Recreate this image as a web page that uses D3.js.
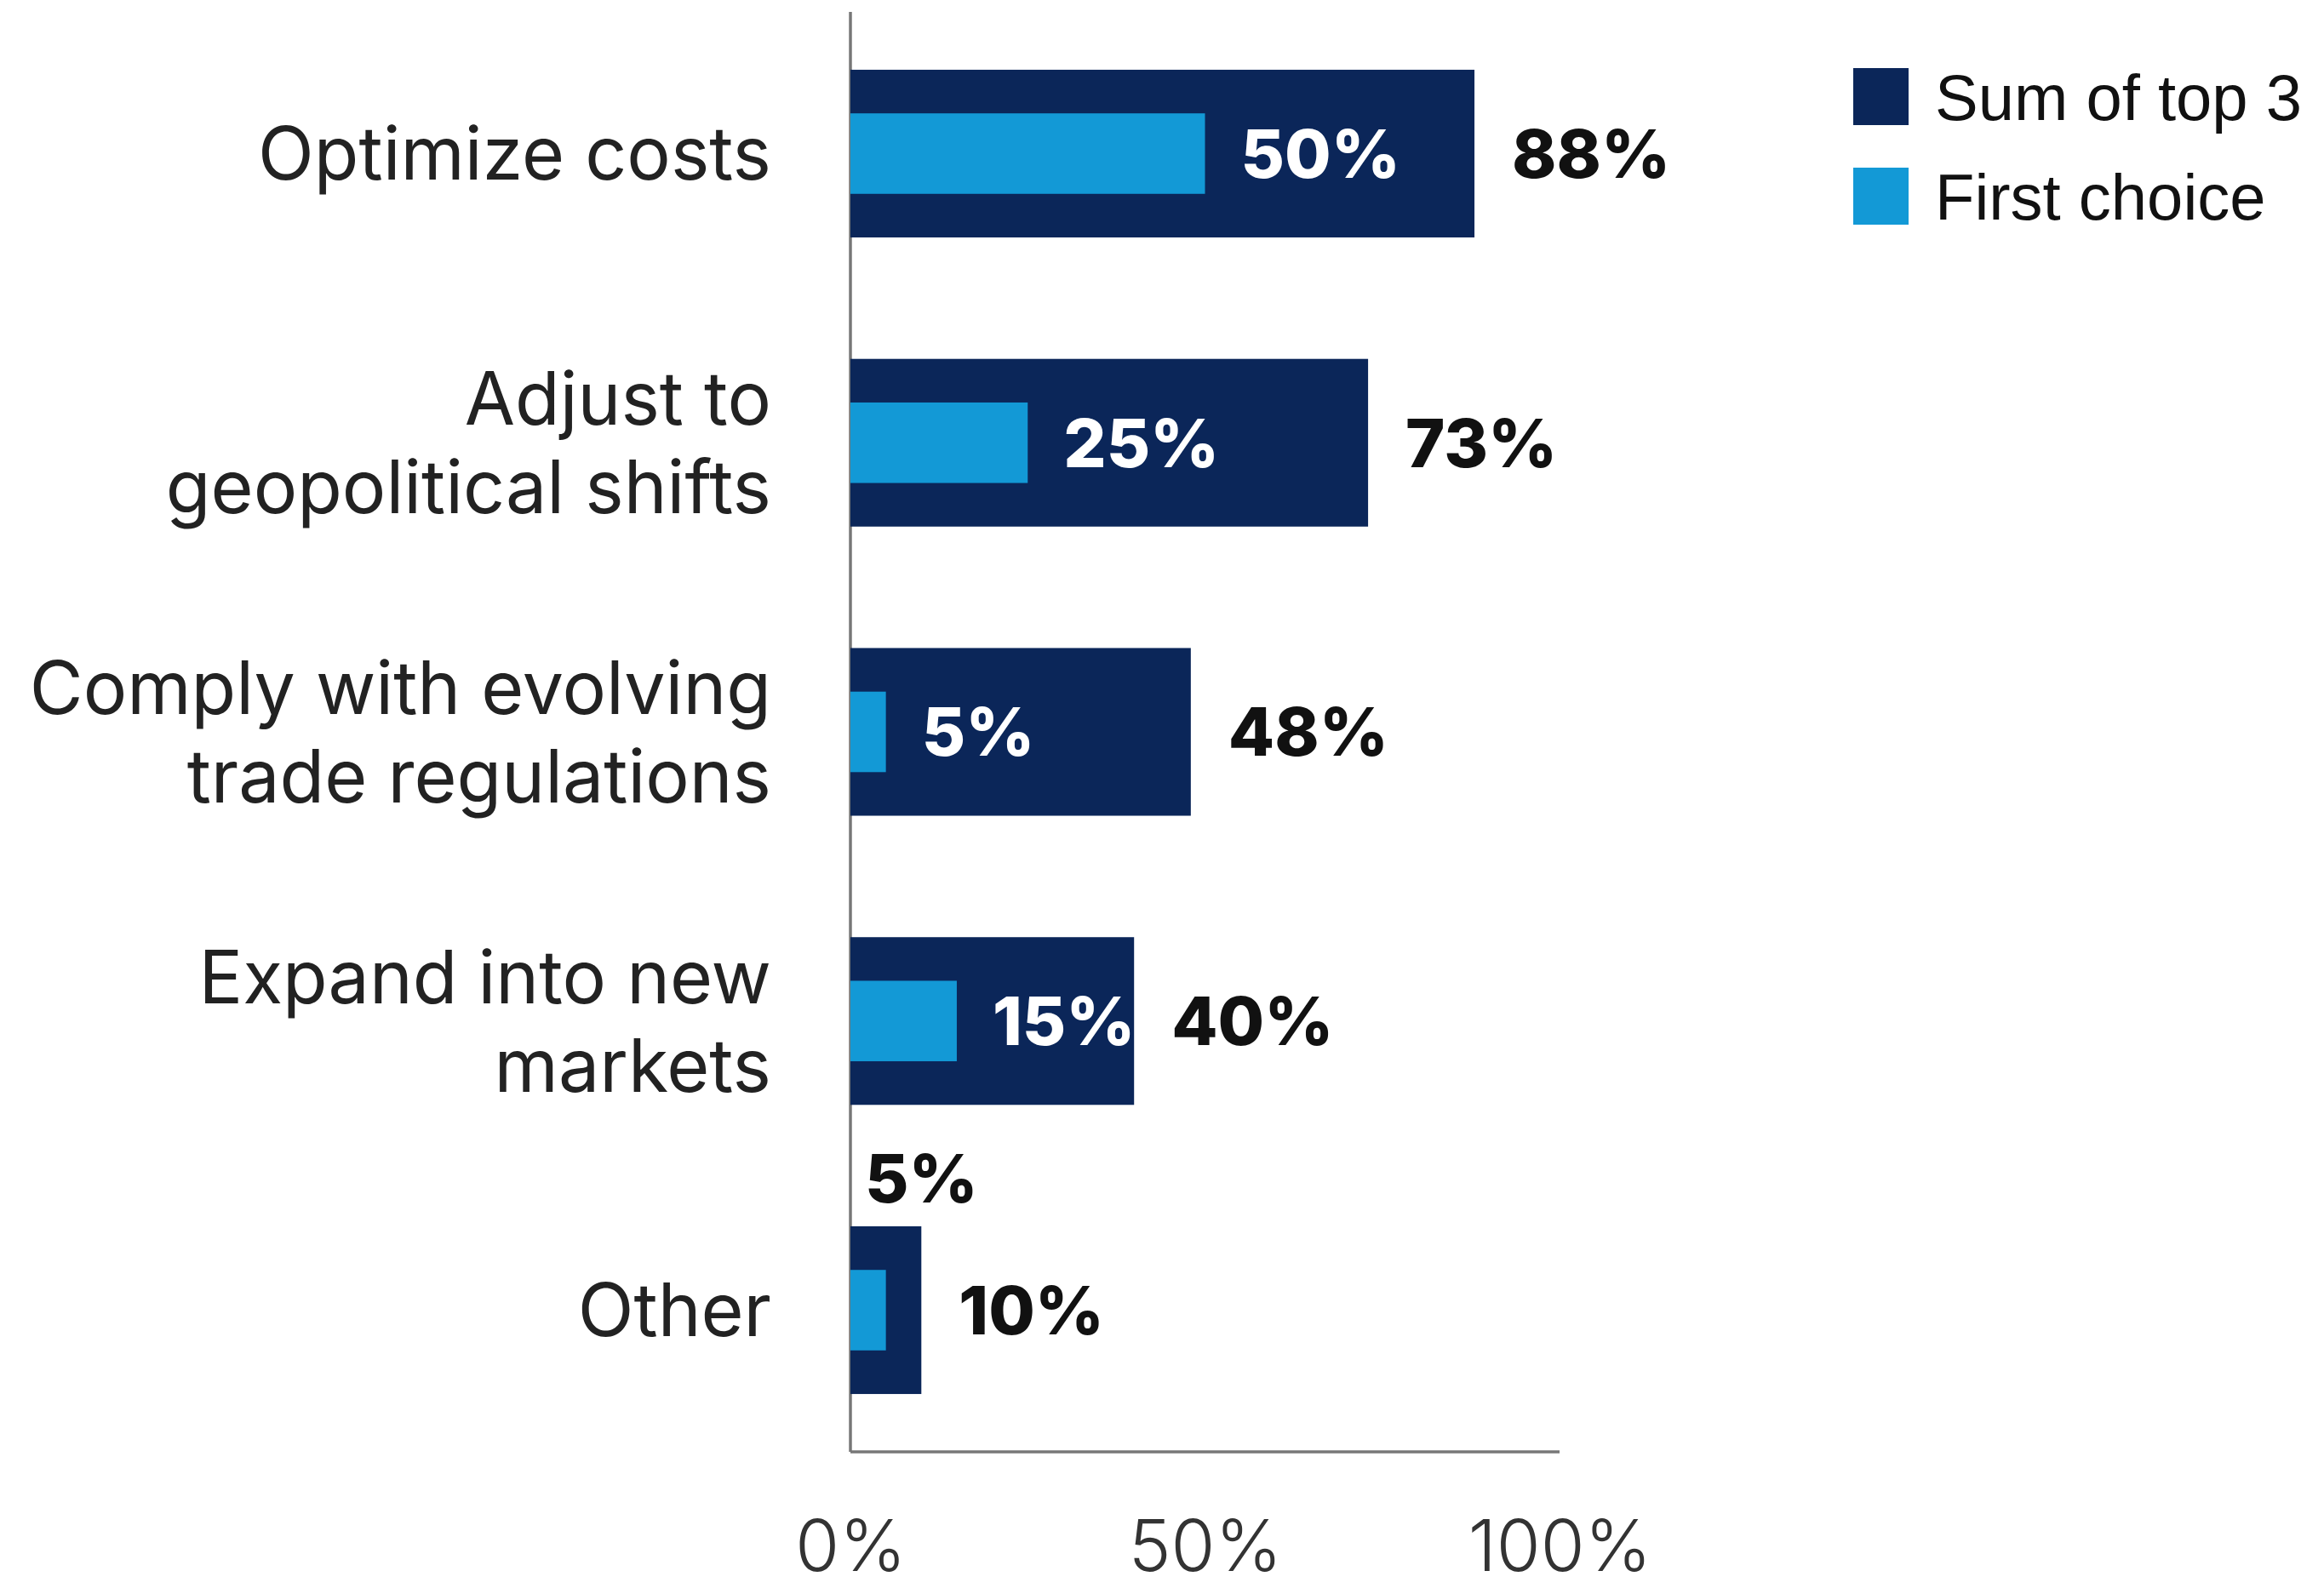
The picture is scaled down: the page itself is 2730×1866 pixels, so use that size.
<!DOCTYPE html>
<html>
<head>
<meta charset="utf-8">
<script src="https://cdn.jsdelivr.net/npm/d3@7"></script>
<style>
  body { margin: 0; background: #fff; }
  svg { display: block; }
</style>
</head>
<body>
<div id="chart"></div>
<script>
// categories and values
const categories = [
  ["Optimize costs"],
  ["Adjust to", "geopolitical shifts"],
  ["Comply with evolving", "trade regulations"],
  ["Expand into new", "markets"],
  ["Other"]
];
const sumTop3 = [88, 73, 48, 40, 10];
const firstChoice = [50, 25, 5, 15, 5];
const xTicks = [0, 50, 100];
const seriesNames = ["Sum of top 3", "First choice"];

const W = 2730, H = 1866;
const darkBlue = "#0b2659", lightBlue = "#1399d6";
const labelFont = "Inter, Lato, sans-serif";

const svg = d3.select("#chart").append("svg")
  .attr("width", W)
  .attr("height", H);

const x = d3.scaleLinear().domain([0, 100]).range([999, 1832]);
const y = d3.scaleBand()
  .domain(d3.range(categories.length))
  .range([14, 1706])
  .paddingInner(0.42)
  .paddingOuter(0.2);

// axes lines
svg.append("line")
  .attr("x1", x(0)).attr("x2", x(0))
  .attr("y1", 14).attr("y2", 1706)
  .attr("stroke", "#777").attr("stroke-width", 3.5);
svg.append("line")
  .attr("x1", x(0)).attr("x2", x(100))
  .attr("y1", 1706).attr("y2", 1706)
  .attr("stroke", "#777").attr("stroke-width", 3.5);

// x tick labels
const xAxis = svg.append("g")
  .attr("transform", "translate(0,1706)")
  .call(d3.axisBottom(x).tickValues(xTicks).tickSize(0).tickPadding(80).tickFormat(d => d + "%"));
xAxis.select(".domain").remove();
xAxis.selectAll("text")
  .attr("font-family", labelFont)
  .attr("font-weight", 300)
  .attr("font-size", 84)
  .attr("fill", "#333");

const rows = svg.selectAll(".row")
  .data(categories.map((c, i) => ({ lines: c, sum: sumTop3[i], first: firstChoice[i], i })))
  .enter().append("g").attr("class", "row");

// dark bars
rows.append("rect")
  .attr("x", x(0))
  .attr("y", d => y(d.i))
  .attr("width", d => x(d.sum) - x(0))
  .attr("height", y.bandwidth())
  .attr("fill", darkBlue);

// light bars (half height, centred)
rows.append("rect")
  .attr("x", x(0))
  .attr("y", d => y(d.i) + y.bandwidth() * 0.26)
  .attr("width", d => x(d.first) - x(0))
  .attr("height", y.bandwidth() * 0.48)
  .attr("fill", lightBlue);

// first choice labels
const outside = d => d.sum - d.first < 8;
rows.append("text")
  .attr("x", d => outside(d) ? x(0) + 17 : x(d.first) + 42)
  .attr("y", d => outside(d) ? y(d.i) - 56 : y(d.i) + y.bandwidth() / 2)
  .attr("dy", "0.36em")
  .attr("font-family", labelFont)
  .attr("font-weight", 800)
  .attr("font-size", 79)
  .attr("fill", d => outside(d) ? "#111" : "#fff")
  .text(d => d.first + "%");

// sum labels
rows.append("text")
  .attr("x", d => x(d.sum) + 44)
  .attr("y", d => y(d.i) + y.bandwidth() / 2)
  .attr("dy", "0.36em")
  .attr("font-family", labelFont)
  .attr("font-weight", 800)
  .attr("font-size", 79)
  .attr("fill", "#111")
  .text(d => d.sum + "%");

// category labels
const lineH = 104;
rows.append("text")
  .attr("text-anchor", "end")
  .attr("font-family", labelFont)
  .attr("font-weight", 400)
  .attr("font-size", 86)
  .attr("fill", "#222")
  .each(function(d) {
    const t = d3.select(this);
    const cy = y(d.i) + y.bandwidth() / 2;
    d.lines.forEach((ln, k) => {
      t.append("tspan")
        .attr("x", 906)
        .attr("y", cy + (k - (d.lines.length - 1) / 2) * lineH)
        .attr("dy", "0.36em")
        .text(ln);
    });
  });

// legend
const legend = svg.append("g");
seriesNames.forEach((name, i) => {
  const ly = 80 + i * 117;
  legend.append("rect")
    .attr("x", 2177).attr("y", ly)
    .attr("width", 65).attr("height", 67)
    .attr("fill", i === 0 ? darkBlue : lightBlue);
  legend.append("text")
    .attr("x", 2273).attr("y", ly + 34)
    .attr("dy", "0.36em")
    .attr("font-family", "Liberation Sans, Arial")
    .attr("font-size", 76)
    .attr("fill", "#111")
    .text(name);
});
</script>
</body>
</html>
